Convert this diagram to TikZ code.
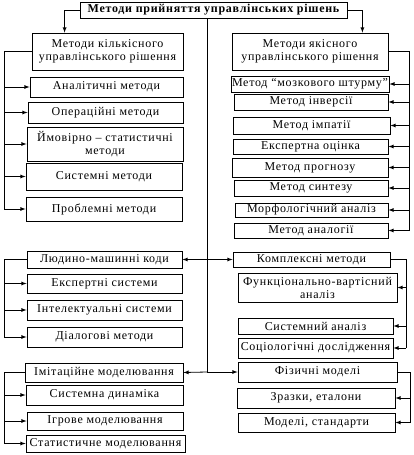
\documentclass[tikz,border=0pt]{standalone}
\usepackage{fontspec}
\setmainfont{Liberation Serif}[LetterSpace=6]
\usetikzlibrary{arrows, positioning}
\tikzstyle{box} = [rectangle, draw=black, line width=0.8pt, inner sep=1pt, align=center, font=\fontsize{12}{13}\selectfont]
\tikzstyle{title} = [box, font=\fontsize{12}{13}\selectfont\bfseries]
\tikzstyle{line} = [line width=0.8pt]
\tikzstyle{arrow} = [line width=0.8pt,->,>=latex]

\begin{document}
\begin{tikzpicture}[x=1pt, y=-1pt]
\useasboundingbox (0,0) rectangle (413,455);

% Top
\node (main) [title, minimum width=267, minimum height=16] at (213.5,10) {Методи прийняття управлінських рішень};

% Left column, group 1
\node (kil) [box, minimum width=151, minimum height=37] at (107.5,51.5) {Методи кількісного\\управлінського рішення};
\node (anal) [box, minimum width=153, minimum height=20] at (106.5,87) {Аналітичні методи};
\node (oper) [box, minimum width=155, minimum height=21] at (105.5,112.5) {Операційні методи};
\node (imov) [box, minimum width=156, minimum height=34] at (105,144) {Ймовірно -- статистичні\\методи};
\node (syst) [box, minimum width=156, minimum height=27] at (104,176.5) {Системні методи};
\node (probl) [box, minimum width=156, minimum height=24] at (104,209) {Проблемні методи};

% Left column, group 2
\node (lmk) [box, minimum width=155, minimum height=17] at (104.5,259.5) {Людино-машинні коди};
\node (ekss) [box, minimum width=155, minimum height=19] at (104.5,283.5) {Експертні системи};
\node (ints) [box, minimum width=155, minimum height=20] at (104.5,310) {Інтелектуальні системи};
\node (dial) [box, minimum width=155, minimum height=20] at (104.5,337) {Діалогові методи};

% Left column, group 3
\node (imit) [box, minimum width=158, minimum height=19] at (104,372.5) {Імітаційне моделювання};
\node (sdyn) [box, minimum width=157, minimum height=20] at (104.5,395) {Системна динаміка};
\node (igr) [box, minimum width=156, minimum height=18] at (105,421) {Ігрове моделювання};
\node (stat) [box, minimum width=159, minimum height=17] at (105.5,443.5) {Статистичне моделювання};

% Right column, group 1
\node (yak) [box, minimum width=156, minimum height=37] at (310,51.5) {Методи якісного\\управлінського рішення};
\node (mozk) [box, minimum width=156, minimum height=16] at (310,84) {Метод ``мозкового штурму''};
\node (inv) [box, minimum width=154, minimum height=16] at (311,102) {Метод інверсії};
\node (imp) [box, minimum width=157, minimum height=17] at (311.5,125.5) {Метод імпатії};
\node (ekso) [box, minimum width=155, minimum height=15] at (310.5,146.5) {Експертна оцінка};
\node (progn) [box, minimum width=156, minimum height=19] at (310,167.5) {Метод прогнозу};
\node (synt) [box, minimum width=154, minimum height=16] at (311,188) {Метод синтезу};
\node (morf) [box, minimum width=153, minimum height=14] at (311.5,210) {Морфологічний аналіз};
\node (anlg) [box, minimum width=154, minimum height=15] at (311,230.5) {Метод аналогії};

% Right column, group 2
\node (kompl) [box, minimum width=157, minimum height=15] at (311.5,259.5) {Комплексні методи};
\node (funk) [box, minimum width=159, minimum height=29] at (317.5,287.5) {Функціонально-вартісний\\аналіз};
\node (sysa) [box, minimum width=155, minimum height=16] at (315.5,326) {Системний аналіз};
\node (sots) [box, minimum width=155, minimum height=20] at (315.5,348) {Соціологічні дослідження};

% Right column, group 3
\node (fiz) [box, minimum width=159, minimum height=20] at (317.5,372) {Фізичні моделі};
\node (zraz) [box, minimum width=158, minimum height=20] at (316,398) {Зразки, еталони};
\node (mods) [box, minimum width=157, minimum height=19] at (316.5,422.5) {Моделі, стандарти};

% Buses
\coordinate (mid) at (207,372);
\coordinate (lb) at (4,0);
\coordinate (rb) at (409,0);
\coordinate (rb2) at (406,0);
\coordinate (rb3) at (410,0);

% Top arrows
\draw [arrow] (main.west) -| ([xshift=33]kil.north west);
\draw [arrow] (main.east) -| ([xshift=-26]yak.north east);
\draw [line] (main.south -| mid) -- (mid);

% Middle arrows
\draw [arrow] (mid |- kompl.west) -- (lmk.east);
\draw [arrow] (mid |- kompl.west) -- (kompl.west);
\draw [arrow] (mid) -- (imit.east);
\draw [arrow] (mid) -- (fiz.west);

% Left group 1
\draw [line] (kil.west) -| (lb |- probl.west);
\foreach \n in {anal, oper, imov, syst, probl}
  \draw [arrow] (lb |- \n.west) -- (\n.west);

% Left group 2
\draw [line] (lmk.west) -| (lb |- dial.west);
\foreach \n in {ekss, ints, dial}
  \draw [arrow] (lb |- \n.west) -- (\n.west);

% Left group 3
\draw [line] (imit.west) -| (lb |- stat.west);
\foreach \n in {sdyn, igr, stat}
  \draw [arrow] (lb |- \n.west) -- (\n.west);

% Right group 1
\draw [line] (yak.east) -| (rb |- anlg.east);
\foreach \n in {mozk, inv, imp, ekso, progn, synt, morf, anlg}
  \draw [arrow] (rb |- \n.east) -- (\n.east);

% Right group 2
\draw [line] (kompl.east) -| (rb2 |- sots.east);
\foreach \n in {funk, sysa, sots}
  \draw [arrow] (rb2 |- \n.east) -- (\n.east);

% Right group 3
\draw [line] (fiz.east) -| (rb3 |- mods.east);
\foreach \n in {zraz, mods}
  \draw [arrow] (rb3 |- \n.east) -- (\n.east);

\end{tikzpicture}
\end{document}
